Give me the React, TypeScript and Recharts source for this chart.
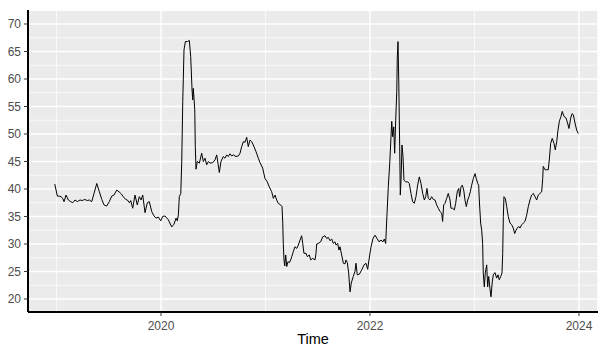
import React from "react";
import { LineChart, Line, XAxis, YAxis, CartesianGrid, Label, ReferenceLine } from "recharts";

// Weekly series, time in decimal years
const times = [
  2018.983, 2019.008, 2019.027, 2019.043, 2019.059, 2019.072, 2019.091, 2019.113, 2019.136, 2019.155,
  2019.177, 2019.199, 2019.225, 2019.247, 2019.270, 2019.295, 2019.314, 2019.337, 2019.359, 2019.385,
  2019.410, 2019.433, 2019.455, 2019.480, 2019.505, 2019.528, 2019.550, 2019.576, 2019.598, 2019.620,
  2019.639, 2019.662, 2019.678, 2019.697, 2019.710, 2019.729, 2019.751, 2019.773, 2019.792, 2019.809,
  2019.825, 2019.847, 2019.869, 2019.888, 2019.911, 2019.933, 2019.952, 2019.974, 2019.997, 2020.016,
  2020.038, 2020.070, 2020.102, 2020.124, 2020.144, 2020.156, 2020.166, 2020.175, 2020.189, 2020.198,
  2020.208, 2020.220, 2020.233, 2020.252, 2020.271, 2020.284, 2020.297, 2020.303, 2020.309, 2020.323,
  2020.328, 2020.335, 2020.347, 2020.367, 2020.389, 2020.405, 2020.421, 2020.437, 2020.453, 2020.469,
  2020.495, 2020.517, 2020.533, 2020.545, 2020.558, 2020.574, 2020.596, 2020.612, 2020.629, 2020.644,
  2020.660, 2020.677, 2020.692, 2020.718, 2020.740, 2020.756, 2020.772, 2020.788, 2020.804, 2020.820,
  2020.835, 2020.852, 2020.868, 2020.883, 2020.909, 2020.931, 2020.947, 2020.973, 2020.995, 2021.017,
  2021.036, 2021.059, 2021.075, 2021.091, 2021.107, 2021.122, 2021.145, 2021.158, 2021.165, 2021.170,
  2021.177, 2021.184, 2021.193, 2021.203, 2021.215, 2021.228, 2021.241, 2021.251, 2021.266, 2021.282,
  2021.299, 2021.314, 2021.330, 2021.346, 2021.356, 2021.368, 2021.388, 2021.400, 2021.419, 2021.433,
  2021.452, 2021.474, 2021.483, 2021.490, 2021.505, 2021.528, 2021.547, 2021.569, 2021.586, 2021.601,
  2021.617, 2021.634, 2021.649, 2021.665, 2021.675, 2021.691, 2021.703, 2021.713, 2021.729, 2021.745,
  2021.761, 2021.770, 2021.783, 2021.796, 2021.809, 2021.821, 2021.840, 2021.856, 2021.866, 2021.878,
  2021.898, 2021.921, 2021.943, 2021.962, 2021.978, 2021.990, 2022.010, 2022.029, 2022.048, 2022.067,
  2022.086, 2022.105, 2022.124, 2022.137, 2022.150, 2022.163, 2022.175, 2022.189, 2022.201, 2022.208,
  2022.217, 2022.227, 2022.236, 2022.246, 2022.256, 2022.261, 2022.268, 2022.275, 2022.284, 2022.290,
  2022.297, 2022.306, 2022.316, 2022.325, 2022.342, 2022.361, 2022.376, 2022.392, 2022.408, 2022.424,
  2022.440, 2022.456, 2022.472, 2022.488, 2022.504, 2022.520, 2022.533, 2022.545, 2022.558, 2022.574,
  2022.590, 2022.606, 2022.622, 2022.638, 2022.654, 2022.670, 2022.686, 2022.695, 2022.705, 2022.718,
  2022.734, 2022.749, 2022.766, 2022.775, 2022.791, 2022.807, 2022.820, 2022.835, 2022.849, 2022.858,
  2022.871, 2022.883, 2022.897, 2022.909, 2022.922, 2022.935, 2022.947, 2022.960, 2022.973, 2022.989,
  2023.005, 2023.017, 2023.031, 2023.040, 2023.046, 2023.059, 2023.069, 2023.078, 2023.084, 2023.094,
  2023.103, 2023.117, 2023.126, 2023.136, 2023.148, 2023.158, 2023.170, 2023.180, 2023.196, 2023.212,
  2023.225, 2023.237, 2023.251, 2023.263, 2023.270, 2023.276, 2023.282, 2023.295, 2023.308, 2023.323,
  2023.340, 2023.356, 2023.371, 2023.385, 2023.397, 2023.410, 2023.423, 2023.435, 2023.452, 2023.467,
  2023.483, 2023.500, 2023.515, 2023.531, 2023.547, 2023.563, 2023.579, 2023.595, 2023.610, 2023.627,
  2023.643, 2023.653, 2023.658, 2023.675, 2023.691, 2023.706, 2023.716, 2023.729, 2023.744, 2023.761,
  2023.773, 2023.787, 2023.799, 2023.812, 2023.828, 2023.840, 2023.856, 2023.876, 2023.891, 2023.904,
  2023.921, 2023.933, 2023.946, 2023.962, 2023.978, 2023.993,
];

const values = [
  40.9, 38.7, 38.7, 38.6, 38.3, 37.7, 38.9, 38.0, 37.7, 37.5,
  38.0, 37.7, 38.0, 37.9, 38.1, 37.9, 38.0, 37.7, 39.2, 41.0,
  39.5, 38.1, 37.1, 36.9, 37.7, 38.7, 38.9, 39.8, 39.5, 39.1,
  38.6, 38.1, 38.0, 37.5, 37.9, 36.5, 38.9, 37.1, 38.6, 38.0,
  38.9, 35.7, 37.5, 37.7, 35.9, 35.1, 34.7, 34.9, 34.2, 35.0,
  35.1, 34.4, 33.1, 33.6, 34.7, 34.2, 35.3, 38.6, 39.2, 44.7,
  55.9, 65.3, 66.8, 66.8, 67.0, 64.1, 58.0, 56.2, 58.3, 54.4,
  47.7, 43.6, 45.0, 44.7, 46.5, 45.0, 45.6, 44.4, 45.0, 44.7,
  44.8, 45.3, 46.2, 44.7, 43.0, 45.0, 45.9, 45.6, 46.2, 45.9,
  46.4, 46.0, 46.2, 45.9, 46.0, 46.5, 47.7, 48.6, 48.5, 49.4,
  47.7, 48.9, 48.6, 48.0, 46.8, 45.6, 44.8, 43.8, 41.9, 41.3,
  40.4, 39.5, 38.3, 38.9, 38.0, 37.4, 37.1, 36.8, 33.8, 30.1,
  27.1, 26.0, 28.0, 25.9, 26.8, 26.6, 27.1, 27.7, 28.6, 29.5,
  29.2, 29.8, 30.7, 31.5, 30.1, 28.3, 28.3, 27.7, 28.0, 27.1,
  27.4, 27.1, 28.3, 30.0, 30.1, 30.4, 31.3, 31.5, 31.0, 31.2,
  30.6, 30.9, 30.1, 30.4, 29.8, 30.1, 28.9, 29.5, 28.0, 26.5,
  26.4, 27.1, 26.6, 24.7, 21.3, 22.9, 24.1, 25.0, 26.5, 24.4,
  24.5, 25.3, 26.2, 26.5, 25.4, 27.1, 29.5, 31.0, 31.6, 31.0,
  30.4, 30.7, 30.4, 30.9, 30.1, 35.6, 40.4, 44.7, 49.5, 52.3,
  49.5, 51.3, 46.5, 52.5, 57.7, 63.8, 66.8, 59.8, 47.7, 38.9,
  41.6, 48.0, 45.9, 41.6, 41.3, 41.3, 41.0, 39.2, 37.7, 37.4,
  38.6, 40.7, 42.2, 41.0, 39.2, 38.0, 38.6, 40.1, 38.3, 38.0,
  38.6, 38.1, 38.0, 37.1, 36.5, 35.9, 35.6, 34.1, 37.1, 37.4,
  38.3, 39.2, 38.0, 36.5, 36.5, 36.2, 37.4, 39.5, 40.1, 38.6,
  40.4, 40.7, 39.8, 38.0, 36.8, 38.0, 38.6, 39.5, 40.7, 41.9,
  42.8, 41.9, 41.0, 40.7, 38.0, 33.8, 32.5, 30.1, 24.7, 22.2,
  24.7, 26.2, 22.2, 24.1, 21.9, 20.4, 23.1, 24.4, 24.8, 23.8,
  24.4, 23.5, 24.1, 24.7, 28.3, 35.0, 38.6, 38.3, 36.8, 35.0,
  33.8, 33.5, 32.9, 31.9, 32.5, 32.9, 33.2, 32.9, 33.5, 33.8,
  34.1, 35.3, 36.8, 38.0, 38.9, 39.2, 38.6, 38.0, 38.9, 39.2,
  39.5, 41.9, 44.1, 43.5, 43.5, 43.5, 45.3, 48.3, 49.2, 48.3,
  47.1, 48.6, 50.7, 52.3, 53.2, 54.1, 53.2, 52.9, 52.0, 51.0,
  52.9, 53.7, 53.5, 52.0, 50.7, 50.1,
];

const xMajor = [2020, 2022, 2024];
const xMinor = [2019, 2021, 2023];
const yMajor = [20, 25, 30, 35, 40, 45, 50, 55, 60, 65, 70];
const yMinor = [22.5, 27.5, 32.5, 37.5, 42.5, 47.5, 52.5, 57.5, 62.5, 67.5, 72.5];

const data = times.map((t, i) => ({ t, v: values[i] }));

const FONT = '"Liberation Sans", Arial, sans-serif';

export default function App() {
  return (
    <div style={{ position: "absolute", left: 0, top: 0, background: "#fff" }}>
      <LineChart
        width={601}
        height={347}
        data={data}
        margin={{ top: 10, right: 3, left: 0, bottom: 0 }}
      >
        <CartesianGrid fill="#EBEBEB" stroke="#FFFFFF" strokeWidth={1.4} />
        {yMinor.map((v) => (
          <ReferenceLine key={`hy${v}`} y={v} stroke="#FFFFFF" strokeWidth={0.7} />
        ))}
        {xMinor.map((v) => (
          <ReferenceLine key={`vx${v}`} x={v} stroke="#FFFFFF" strokeWidth={0.7} />
        ))}
        <XAxis
          dataKey="t"
          type="number"
          domain={[2018.727, 2024.182]}
          ticks={xMajor}
          allowDataOverflow
          height={35}
          axisLine={{ stroke: "#000", strokeWidth: 2 }}
          tickLine={{ stroke: "#333" }}
          tickSize={4}
          tickMargin={5}
          tick={{ fill: "#4D4D4D", fontSize: 12, fontFamily: FONT }}
        >
          <Label
            value="Time"
            position="insideBottom"
            offset={3}
            style={{ fill: "#000", fontSize: 14.5, fontFamily: FONT }}
          />
        </XAxis>
        <YAxis
          type="number"
          domain={[17.636, 72.545]}
          ticks={yMajor}
          allowDataOverflow
          width={28}
          axisLine={{ stroke: "#000", strokeWidth: 2 }}
          tickLine={{ stroke: "#333" }}
          tickSize={4}
          tickMargin={3}
          tick={{ fill: "#4D4D4D", fontSize: 12, fontFamily: FONT }}
        />
        <Line
          type="linear"
          dataKey="v"
          stroke="#000"
          strokeWidth={1}
          dot={false}
          isAnimationActive={false}
        />
      </LineChart>
    </div>
  );
}
